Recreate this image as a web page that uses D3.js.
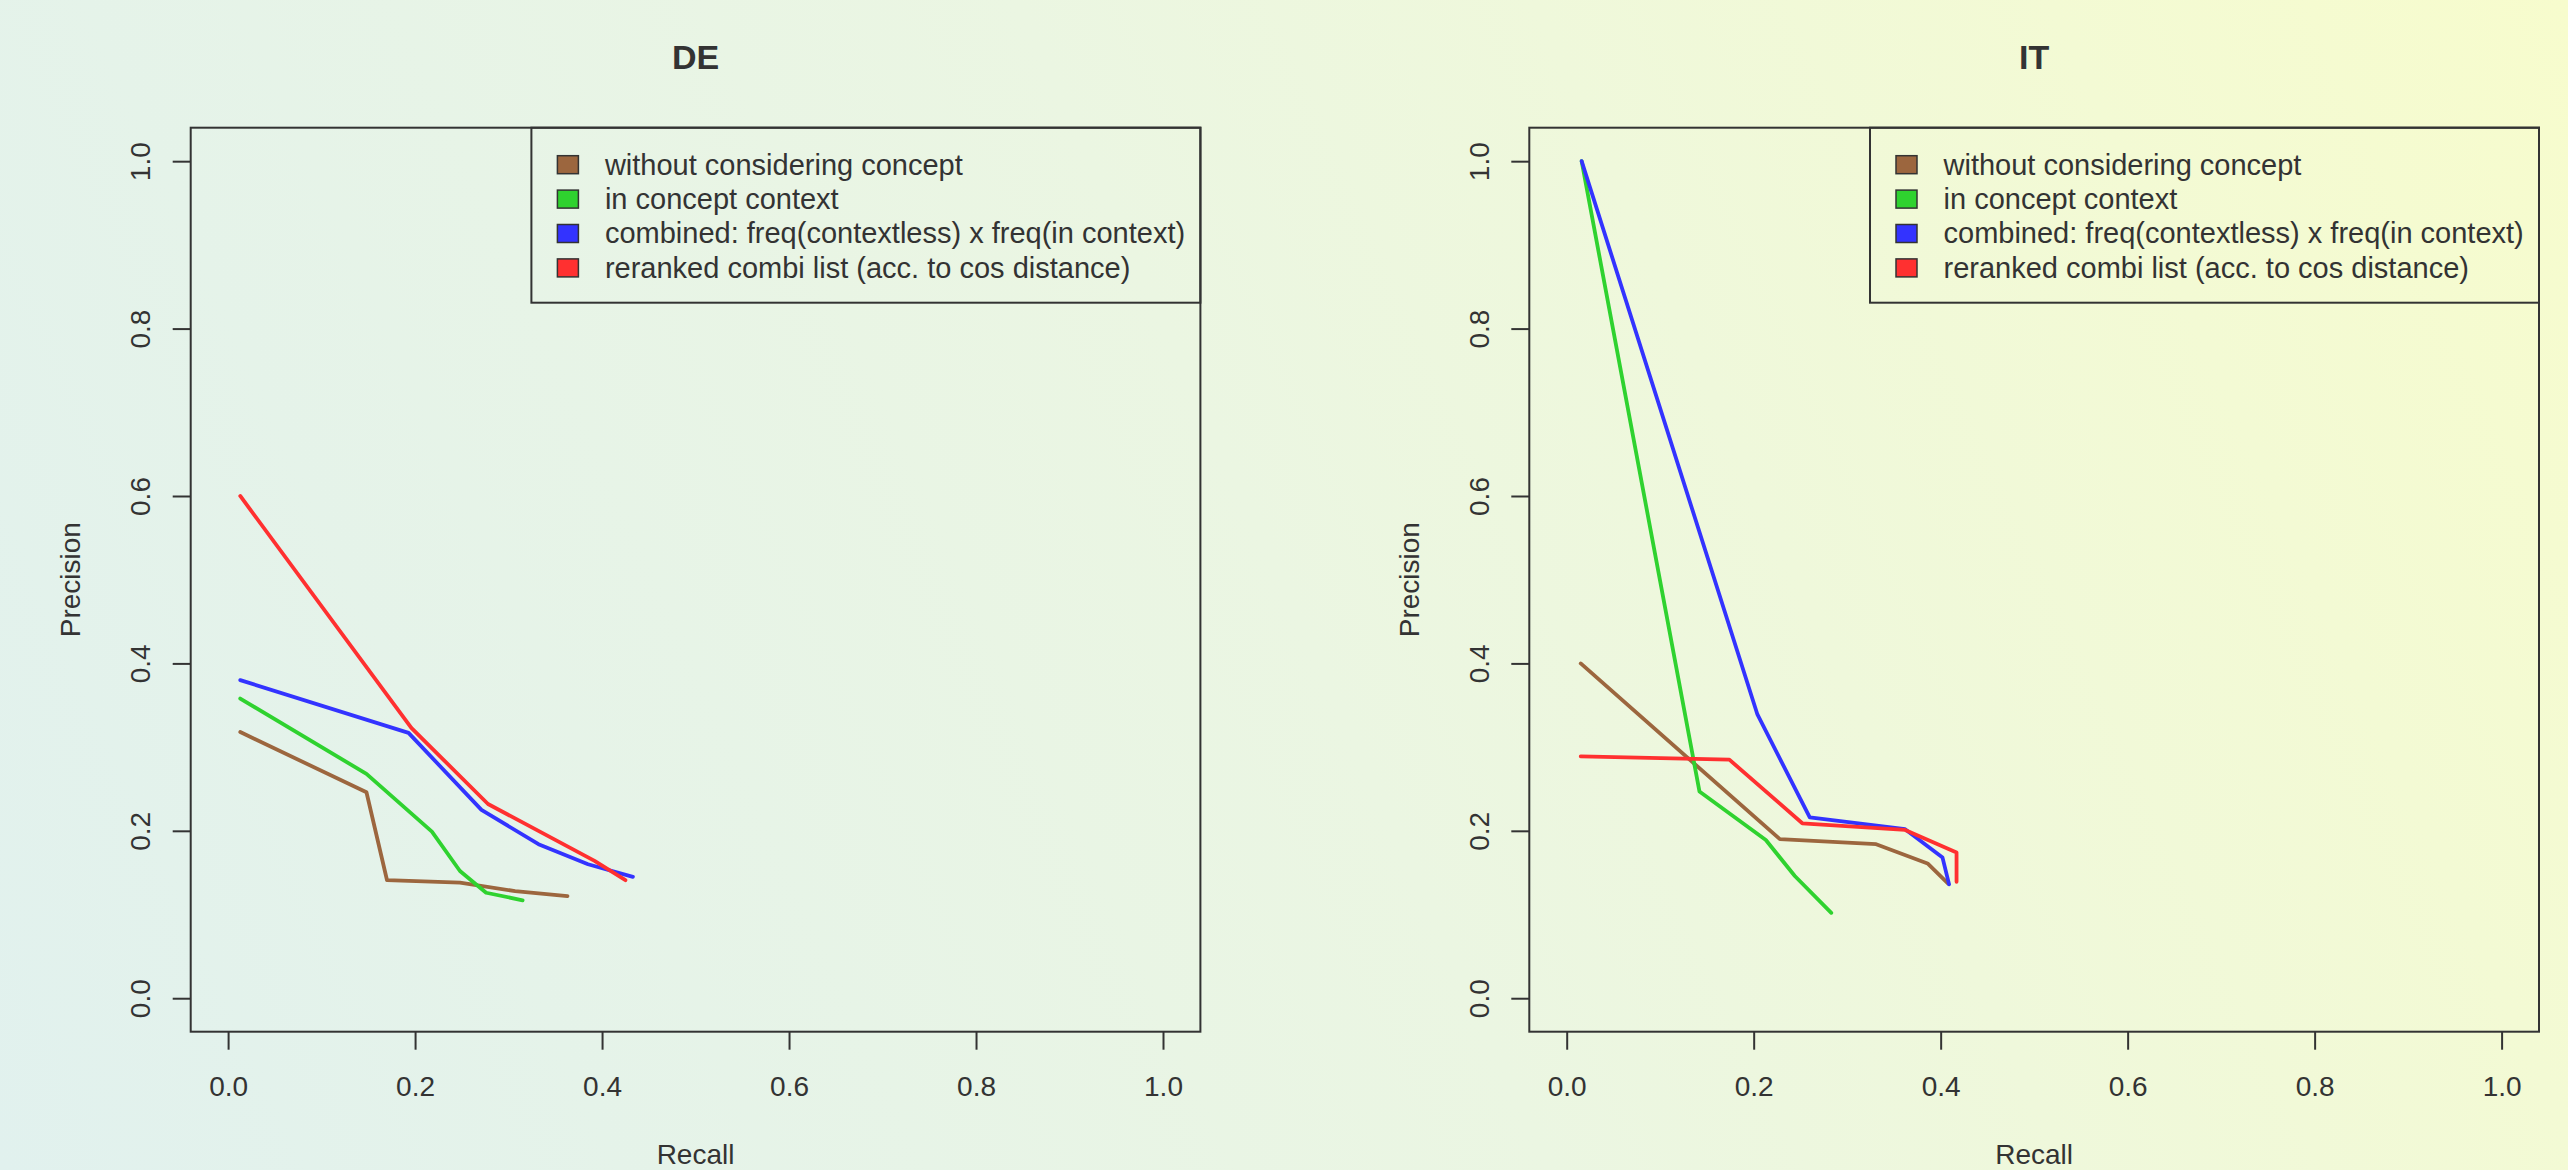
<!DOCTYPE html>
<html>
<head>
    <meta charset="utf-8">
    <title>Precision / Recall</title>
    <script type="text/javascript" src="https://cdn.jsdelivr.net/npm/d3@7"></script>
    <style type="text/css">
        html, body {
            margin: 0;
            padding: 0;
            overflow: hidden;
        }

        svg {
            display: block;
            font-family: "Liberation Sans", Arial, Helvetica, sans-serif;
        }

        .tick line {
            stroke: #333;
            stroke-width: 2px;
        }

        .tick text {
            fill: #333;
            font-size: 28px;
        }

        .frame {
            fill: none;
            stroke: #333;
            stroke-width: 2px;
        }

        .series {
            fill: none;
            stroke-width: 3.8px;
            stroke-linejoin: round;
            stroke-linecap: round;
        }
    </style>
</head>

<body>

<script type="text/javascript">
    // panels and legend
    var panelNames = ["DE", "IT"];
    var seriesNames = [
        "without considering concept",
        "in concept context",
        "combined: freq(contextless) x freq(in context)",
        "reranked combi list (acc. to cos distance)"
    ];
    var seriesColors = ["#9c663e", "#2fd22f", "#3333ff", "#ff3030"];

    var axisTicks = [0, 0.2, 0.4, 0.6, 0.8, 1.0];
    var tickLabels = ["0.0", "0.2", "0.4", "0.6", "0.8", "1.0"];

    // DE: recall / precision per series
    var deWithoutR  = [0.013, 0.148, 0.170, 0.248, 0.307, 0.363];
    var deWithoutP  = [0.318, 0.246, 0.141, 0.138, 0.128, 0.122];
    var deContextR  = [0.013, 0.148, 0.218, 0.248, 0.276, 0.315];
    var deContextP  = [0.358, 0.268, 0.199, 0.152, 0.126, 0.117];
    var deCombinedR = [0.013, 0.193, 0.271, 0.332, 0.385, 0.433];
    var deCombinedP = [0.380, 0.317, 0.225, 0.184, 0.160, 0.145];
    var deRerankedR = [0.013, 0.196, 0.278, 0.392, 0.425];
    var deRerankedP = [0.600, 0.323, 0.232, 0.164, 0.141];

    // IT
    var itWithoutR  = [0.015, 0.228, 0.331, 0.386, 0.408];
    var itWithoutP  = [0.400, 0.190, 0.184, 0.161, 0.137];
    var itContextR  = [0.016, 0.142, 0.213, 0.244, 0.283];
    var itContextP  = [1.000, 0.247, 0.189, 0.146, 0.102];
    var itCombinedR = [0.016, 0.204, 0.260, 0.362, 0.402, 0.409];
    var itCombinedP = [1.000, 0.339, 0.216, 0.202, 0.168, 0.136];
    var itRerankedR = [0.015, 0.174, 0.252, 0.362, 0.417, 0.417];
    var itRerankedP = [0.289, 0.285, 0.209, 0.201, 0.174, 0.139];

    var panelSeries = [
        [[deWithoutR, deWithoutP], [deContextR, deContextP], [deCombinedR, deCombinedP], [deRerankedR, deRerankedP]],
        [[itWithoutR, itWithoutP], [itContextR, itContextP], [itCombinedR, itCombinedP], [itRerankedR, itRerankedP]]
    ];

    var w = 2568, h = 1170;
    // note: "top" is taken by window.top, so boxTop
    var boxLefts = [190.7, 1529.3], boxTop = 127.7,
        pw = 1009.7, ph = 904;

    var svg = d3.select("body")
            .append("svg")
                .attr("width", w)
                .attr("height", h);

    // soft mint -> pale yellow background
    var grad = svg.append("defs").append("linearGradient")
            .attr("id", "bg")
            .attr("gradientUnits", "userSpaceOnUse")
            .attr("x1", 0).attr("y1", h)
            .attr("x2", w).attr("y2", 0);
    grad.append("stop").attr("offset", "0").attr("stop-color", "#e1f1ee");
    grad.append("stop").attr("offset", "0.5").attr("stop-color", "#ebf6e2");
    grad.append("stop").attr("offset", "1").attr("stop-color", "#f7fccd");

    svg.append("rect")
        .attr("width", w)
        .attr("height", h)
        .attr("fill", "url(#bg)");

    panelNames.forEach(function (name, i) {
        var left = boxLefts[i];

        // R style: 4% padding on each side of [0, 1]
        var x = d3.scaleLinear().domain([-0.04, 1.04]).range([left, left + pw]);
        var y = d3.scaleLinear().domain([-0.04, 1.04]).range([boxTop + ph, boxTop]);

        var g = svg.append("g");

        var xAxis = d3.axisBottom(x)
                .tickValues(axisTicks)
                .tickFormat(function (d, j) {return tickLabels[j];})
                .tickSizeInner(18)
                .tickSizeOuter(0)
                .tickPadding(26);

        var gx = g.append("g")
                .attr("transform", "translate(0," + (boxTop + ph) + ")")
                .call(xAxis);
        gx.select(".domain").remove();
        gx.selectAll("text")
            .attr("font-family", null)
            .attr("font-size", null);

        var yAxis = d3.axisLeft(y)
                .tickValues(axisTicks)
                .tickFormat(function (d, j) {return tickLabels[j];})
                .tickSizeInner(18)
                .tickSizeOuter(0);

        var gy = g.append("g")
                .attr("transform", "translate(" + left + ",0)")
                .call(yAxis);
        gy.select(".domain").remove();
        gy.selectAll("text")
            .attr("font-family", null)
            .attr("font-size", null)
            .attr("x", 0)
            .attr("dy", null)
            .attr("text-anchor", "middle")
            .attr("transform", "translate(-40.5,0) rotate(-90)");

        g.append("rect")
            .attr("class", "frame")
            .attr("x", left)
            .attr("y", boxTop)
            .attr("width", pw)
            .attr("height", ph);

        var line = d3.line()
                .x(function (d) {return x(d[0]);})
                .y(function (d) {return y(d[1]);});

        panelSeries[i].forEach(function (s, k) {
            var pts = s[0].map(function (r, j) {return [r, s[1][j]];});
            g.append("path")
                .datum(pts)
                .attr("class", "series")
                .attr("stroke", seriesColors[k])
                .attr("d", line);
        });

        // titles
        g.append("text")
            .attr("x", left + pw / 2)
            .attr("y", 69)
            .attr("text-anchor", "middle")
            .attr("font-size", 34)
            .attr("font-weight", "bold")
            .attr("fill", "#333")
            .text(name);

        g.append("text")
            .attr("x", left + pw / 2)
            .attr("y", 1164)
            .attr("text-anchor", "middle")
            .attr("font-size", 28)
            .attr("fill", "#333")
            .text("Recall");

        g.append("text")
            .attr("transform", "translate(" + (left - 110.5) + "," + (boxTop + ph / 2) + ") rotate(-90)")
            .attr("text-anchor", "middle")
            .attr("font-size", 28)
            .attr("fill", "#333")
            .text("Precision");

        // legend, top right of the plot box
        var lw = 669, lh = 175;
        var lg = g.append("g")
                .attr("transform", "translate(" + (left + pw - lw) + "," + boxTop + ")");

        lg.append("rect")
            .attr("class", "frame")
            .attr("width", lw)
            .attr("height", lh);

        seriesNames.forEach(function (label, k) {
            var cy = 37 + k * 34.4;
            lg.append("rect")
                .attr("x", 26)
                .attr("y", cy - 9)
                .attr("width", 21)
                .attr("height", 18)
                .attr("fill", seriesColors[k])
                .attr("stroke", "#333")
                .attr("stroke-width", 1.5);
            lg.append("text")
                .attr("x", 73.5)
                .attr("y", cy + 10)
                .attr("font-size", 29)
                .attr("fill", "#333")
                .text(label);
        });
    });
</script>

</body>
</html>
